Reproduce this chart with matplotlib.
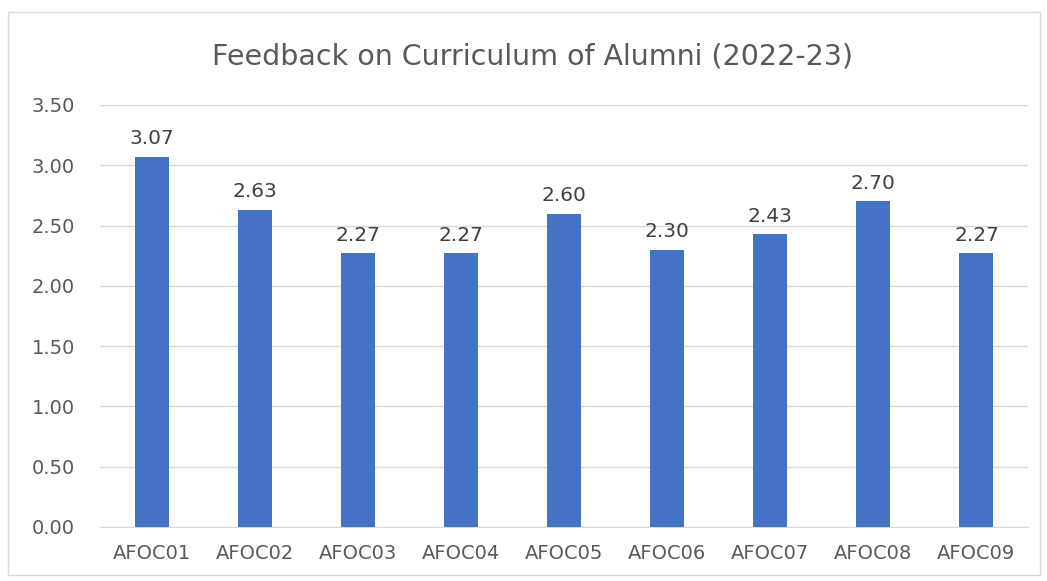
import matplotlib
matplotlib.use("Agg")
import matplotlib.pyplot as plt
from matplotlib.patches import Rectangle

# --- Data ---
categories = ["AFOC01", "AFOC02", "AFOC03", "AFOC04", "AFOC05",
              "AFOC06", "AFOC07", "AFOC08", "AFOC09"]
scores = [3.07, 2.63, 2.27, 2.27, 2.60, 2.30, 2.43, 2.70, 2.27]
yticks = [0.0, 0.5, 1.0, 1.5, 2.0, 2.5, 3.0, 3.5]

plt.rcParams["font.family"] = ["DejaVu Sans"]
text_col = "#595959"

fig = plt.figure(figsize=(10.47, 5.81), dpi=100)
fig.patch.set_facecolor("white")
fig.patches.append(Rectangle((8 / 1047, 6 / 581), 1032 / 1047, 563 / 581,
                             transform=fig.transFigure, fill=False,
                             edgecolor="#d9d9d9", linewidth=1))

ax = fig.add_axes([100 / 1047, 1 - 527 / 581, 928 / 1047, 422 / 581])
x = range(len(categories))
ax.bar(x, scores, width=0.33, color="#4472C4", zorder=3)

# value labels above bars
for xi, v in zip(x, scores):
    ax.text(xi, v + 0.07, f"{v:.2f}", ha="center", va="bottom",
            fontsize=14.5, color="#404040")

ax.set_ylim(0, 3.5)
ax.set_xlim(-0.5, len(categories) - 0.5)
ax.set_yticks(yticks)
ax.set_yticklabels([f"{t:.2f}" for t in yticks], fontsize=14, color=text_col)
ax.set_xticks(list(x))
ax.set_xticklabels(categories, fontsize=14, color=text_col)
ax.tick_params(axis="y", length=0, pad=18)
ax.tick_params(axis="x", length=0, pad=12)
ax.yaxis.grid(True, color="#d9d9d9", linewidth=1, zorder=0)
for s in ["top", "right", "left"]:
    ax.spines[s].set_visible(False)
ax.spines["bottom"].set_color("#d9d9d9")

fig.text(533 / 1047, 1 - 57 / 581, "Feedback on Curriculum of Alumni (2022-23)",
         ha="center", va="center", fontsize=20.5, color=text_col)

fig.savefig("out.png", dpi=100)
